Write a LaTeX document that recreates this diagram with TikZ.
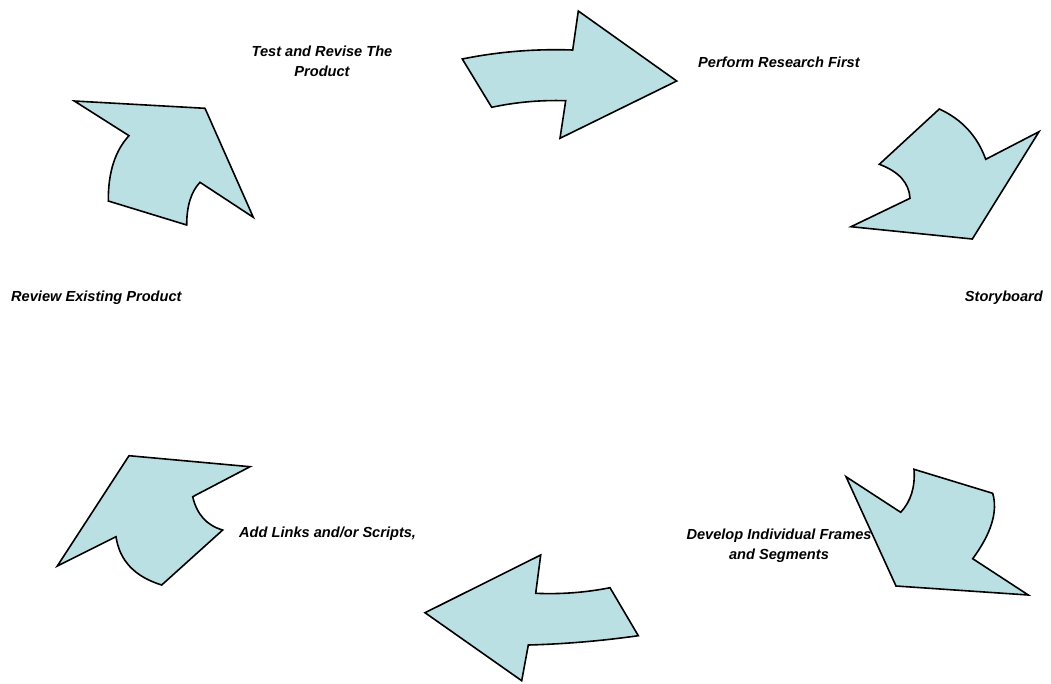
\documentclass[tikz,border=0pt]{standalone}
\usepackage{fontspec}
\setmainfont{Liberation Sans}
\begin{document}
\begin{tikzpicture}[x=1pt,y=-1pt,
  arr/.style={fill=arrowfill,draw=black,line width=1.6pt,line join=miter},
  lbl/.style={font=\fontsize{14.6}{20}\selectfont\bfseries\itshape,inner sep=0pt,align=center}]
\definecolor{arrowfill}{HTML}{BBE0E3}
\useasboundingbox (0,0) rectangle (1051,683);
% top arrow
\draw[arr] (462.3,59) .. controls (498.1,51.7) and (534.9,48.7) .. (572.7,50) -- (578.3,11) -- (676.7,81) -- (560,138.3) -- (565.7,100.7) .. controls (540.6,99.9) and (515.9,102.1) .. (491.7,107.3) -- cycle;
% upper right
\draw[arr] (939.3,109) .. controls (961.8,119.3) and (977.3,136.0) .. (985.7,159.3) -- (1039,131.7) -- (972.3,239) -- (851,226.7) -- (910,198.3) .. controls (909.1,183) and (898.9,171.6) .. (879.3,164.3) -- cycle;
% lower right
\draw[arr] (914,469.3) -- (992.7,493.3) .. controls (998,511.5) and (991.4,533.3) .. (972.7,558.7) -- (1028.3,595) -- (896,586) -- (846,476.7) -- (900.7,512.3) .. controls (910.9,501.3) and (915.3,487) .. cycle;
% bottom
\draw[arr] (425,612.7) -- (540.7,555) -- (535.7,593.3) .. controls (561,594.4) and (585.8,592.5) .. (610,587.7) -- (638.3,635.7) .. controls (601.4,640.9) and (564.8,644) .. (528.3,645) -- (521.7,680.7) -- cycle;
% lower left
\draw[arr] (129,455.7) -- (250,466.7) -- (192.7,496.7) .. controls (196.8,514.4) and (206.8,525.5) .. (222.7,530) -- (161.7,585) .. controls (134.7,576.7) and (119.5,560.6) .. (116,536.7) -- (57.3,566) -- cycle;
% upper left
\draw[arr] (74.3,101) -- (205,108.3) -- (253.3,217.3) -- (200,182.3) .. controls (191.1,191.7) and (186.7,205.9) .. (186.7,225) -- (108.3,201) .. controls (108.1,172.5) and (115,150.8) .. (129,135.7) -- cycle;
% labels
\node[lbl] (t1) at (322,61.5) {Test and Revise The\\Product};
\node[lbl,anchor=west] (t2) at (698,62) {Perform Research First};
\node[lbl,anchor=east] (t3) at (1043,298) {Storyboard};
\node[lbl,anchor=west] (t4) at (11,298) {Review Existing Product};
\node[lbl,anchor=west] (t5) at (239,534) {Add Links and/or Scripts,};
\node[lbl] (t6) at (779,546) {Develop Individual Frames\\and Segments};
\end{tikzpicture}
\end{document}
